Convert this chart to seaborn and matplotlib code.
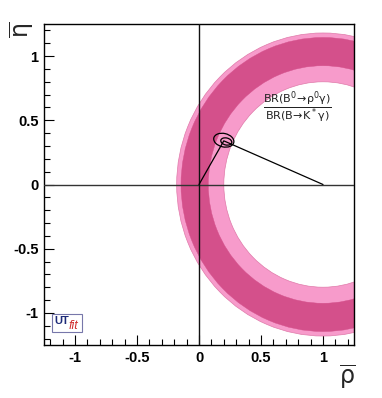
import seaborn as sns
from matplotlib import pyplot as plt
from matplotlib.patches import Wedge, Ellipse, FancyBboxPatch
from matplotlib.ticker import MultipleLocator
import numpy as np

# ring constraint centred on (1, 0): radii of the 95% and 68% bands
ring_center = (1.0, 0.0)
outer_band = [0.80, 1.18]   # light pink (95%)
inner_band = [0.925, 1.145]  # dark pink (68%)

# fit result contours around the apex
apex = (0.20, 0.345)
ellipse_w = [0.165, 0.09]
ellipse_h = [0.105, 0.055]
ellipse_offset = [(0.0, 0.0), (0.02, -0.01)]

tri_x = [0.0, 0.20, 1.0]
tri_y = [0.0, 0.340, 0.0]

ticks = [-1, -0.5, 0, 0.5, 1]
tick_labels = ['-1', '-0.5', '0', '0.5', '1']

sns.set_style('white')
plt.rcParams['font.family'] = ['Liberation Sans', 'DejaVu Sans']

fig = plt.figure(figsize=(3.82, 3.98), dpi=100)
ax = fig.add_axes([44 / 382, 53 / 398, 310 / 382, 321 / 398])

ax.add_patch(Wedge(ring_center, outer_band[1], 0, 360, width=outer_band[1] - outer_band[0],
                   facecolor='#f79bcb', edgecolor='#e07aaa', lw=0.5, zorder=1))
ax.add_patch(Wedge(ring_center, inner_band[1], 0, 360, width=inner_band[1] - inner_band[0],
                   facecolor='#d4508b', edgecolor='#d4508b', lw=0.3, zorder=2))

ax.axhline(0, color='#333333', lw=1.0, zorder=3)
ax.axvline(0, color='#111111', lw=1.0, zorder=3)

sns.lineplot(x=tri_x, y=tri_y, ax=ax, color='black', lw=0.9, sort=False, zorder=4)

for w, h, off in zip(ellipse_w, ellipse_h, ellipse_offset):
    ax.add_patch(Ellipse((apex[0] + off[0], apex[1] + off[1]), w, h, angle=-12,
                         facecolor='none', edgecolor='black', lw=0.9, zorder=5))

ax.text(0.79, 0.60, r'$\frac{\mathrm{BR(B^0\!\rightarrow\!\rho^0\gamma)}}{\mathrm{BR(B\!\rightarrow\! K^*\gamma)}}$',
        ha='center', va='center', fontsize=11.5, color='#222222', zorder=6)

ax.set_xlim(-1.25, 1.25)
ax.set_ylim(-1.25, 1.25)
ax.set_xticks(ticks)
ax.set_xticklabels(tick_labels)
ax.set_yticks(ticks)
ax.set_yticklabels(tick_labels)
ax.xaxis.set_minor_locator(MultipleLocator(0.1))
ax.yaxis.set_minor_locator(MultipleLocator(0.1))
ax.tick_params(which='both', direction='in', top=False, right=False, bottom=True, left=True,
               labelsize=10.5, colors='black', width=0.8)
ax.tick_params(which='major', length=7, pad=4)
ax.tick_params(which='minor', length=4)
for lab in ax.get_xticklabels() + ax.get_yticklabels():
    lab.set_fontweight('bold')
for s in ax.spines.values():
    s.set_color('black')
    s.set_linewidth(1.0)

fig.text(347 / 382, 1 - 377 / 398, r'$\overline{\mathrm{\rho}}$', fontsize=17, ha='center', va='center')
fig.text(22 / 382, 1 - 30 / 398, r'$\overline{\mathrm{\eta}}$', fontsize=17, ha='center', va='center', rotation=90)

# UTfit logo
ax.add_patch(FancyBboxPatch((52 / 382, 1 - 332 / 398), 30 / 382, 18 / 398, boxstyle='square,pad=0',
                            transform=fig.transFigure, facecolor='white', edgecolor='#7777aa', lw=0.8,
                            zorder=7, clip_on=False))
fig.text(54 / 382, 1 - 320.5 / 398, 'UT', fontsize=8, fontweight='bold', color='#1c2a78',
         va='center', ha='left', zorder=8)
fig.text(68.5 / 382, 1 - 326 / 398, 'fit', fontsize=9, style='italic', color='#d03030',
         va='center', ha='left', zorder=8)

fig.savefig('out.png', dpi=100)
